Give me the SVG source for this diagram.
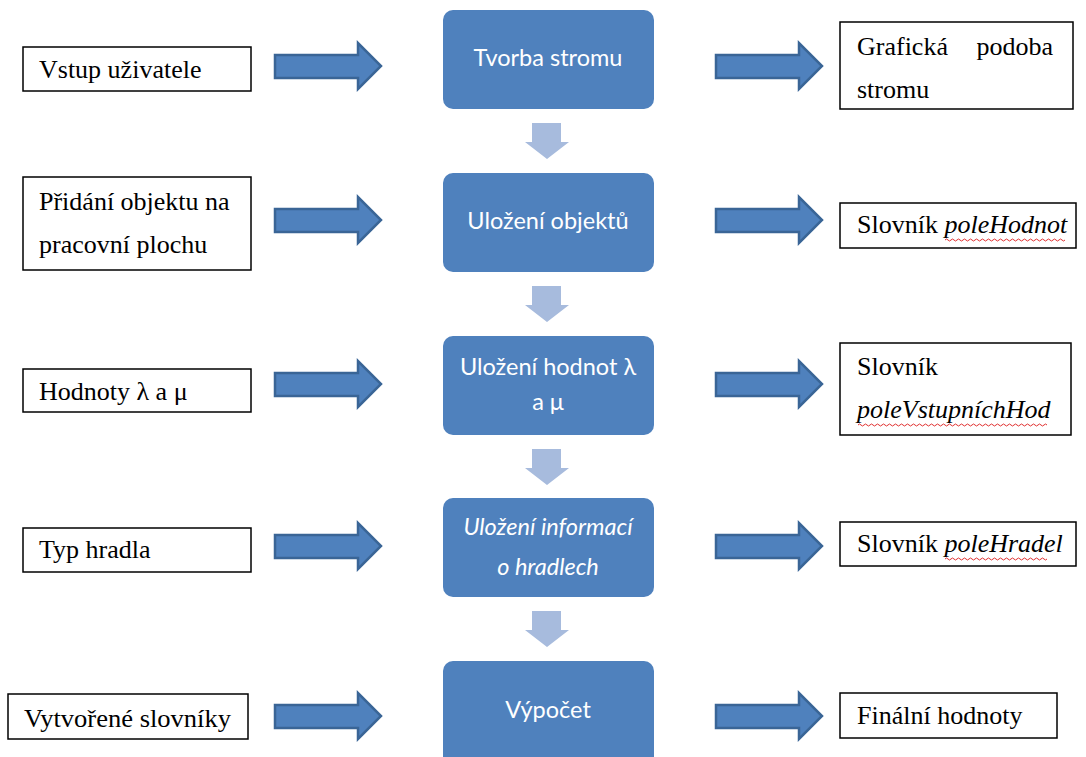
<svg xmlns="http://www.w3.org/2000/svg" width="1086" height="757" viewBox="0 0 1086 757">
<defs>
<style>
.box{fill:#fff;stroke:#000;stroke-width:1.5}
.proc{fill:#4F81BD}
.t{font-family:"Liberation Serif","Times New Roman",serif;font-size:26px;fill:#000}
.it{font-style:italic}
.c{font-family:Lato,"Open Sans","Liberation Sans",sans-serif;font-size:23.5px;fill:#fff;text-anchor:middle}
.harrow{fill:#4F81BD;stroke:#3A6596;stroke-width:2.5;stroke-linejoin:miter}
.varrow{fill:#A7BBDD}
.sq{fill:none;stroke:#E03030;stroke-width:1}
</style>
<path id="ha" d="M-106,-11 L-23,-11 L-23,-23 L0,0 L-23,23 L-23,12 L-106,12 Z"/>
<path id="va" d="M-15,0 L14,0 L14,19 L22,19 L0,36 L-22,19 L-15,19 Z"/>
</defs>

<g id="connectors">
<use href="#ha" class="harrow" x="381" y="66"/>
<use href="#ha" class="harrow" x="381" y="220"/>
<use href="#ha" class="harrow" x="381" y="384"/>
<use href="#ha" class="harrow" x="381" y="546"/>
<use href="#ha" class="harrow" x="381" y="716"/>
<use href="#ha" class="harrow" x="822" y="66"/>
<use href="#ha" class="harrow" x="822" y="220"/>
<use href="#ha" class="harrow" x="822" y="384"/>
<use href="#ha" class="harrow" x="822" y="546"/>
<use href="#ha" class="harrow" x="822" y="716"/>
<use href="#va" class="varrow" x="547" y="123"/>
<use href="#va" class="varrow" x="547" y="286"/>
<use href="#va" class="varrow" x="547" y="449"/>
<use href="#va" class="varrow" x="547" y="611"/>
</g>

<g id="in1"><rect class="box" x="23" y="47" width="228" height="44"/><text class="t" x="39" y="78">Vstup uživatele</text></g>
<g id="in2"><rect class="box" x="23" y="177" width="228" height="93"/><text class="t" x="39" y="210">Přidání objektu na</text><text class="t" x="39" y="253">pracovní plochu</text></g>
<g id="in3"><rect class="box" x="23" y="369" width="228" height="43"/><text class="t" x="39" y="400">Hodnoty λ a μ</text></g>
<g id="in4"><rect class="box" x="23" y="528" width="228" height="44"/><text class="t" x="39" y="558">Typ hradla</text></g>
<g id="in5"><rect class="box" x="8" y="694" width="240" height="45"/><text class="t" x="24" y="727" textLength="207" lengthAdjust="spacingAndGlyphs">Vytvořené slovníky</text></g>

<g id="p1"><rect class="proc" x="443" y="10" width="211" height="99" rx="10"/><text class="c" x="548" y="66">Tvorba stromu</text></g>
<g id="p2"><rect class="proc" x="443" y="173" width="211" height="99" rx="10"/><text class="c" x="548" y="229">Uložení objektů</text></g>
<g id="p3"><rect class="proc" x="443" y="336" width="211" height="99" rx="10"/><text class="c" x="548" y="375">Uložení hodnot λ</text><text class="c" x="548" y="410">a μ</text></g>
<g id="p4"><rect class="proc" x="443" y="498" width="211" height="99" rx="10"/><text class="c it" x="548" y="535">Uložení informací</text><text class="c it" x="548" y="575">o hradlech</text></g>
<g id="p5"><rect class="proc" x="443" y="661" width="211" height="110" rx="10"/><text class="c" x="548" y="718">Výpočet</text></g>

<g id="out1"><rect class="box" x="840" y="22" width="233" height="87"/><text class="t" x="857" y="55">Grafická</text><text class="t" x="1053" y="55" text-anchor="end">podoba</text><text class="t" x="857" y="98">stromu</text></g>
<g id="out2"><rect class="box" x="840" y="203" width="236" height="45"/><text class="t" x="857" y="233">Slovník <tspan class="it">poleHodnot</tspan></text><path class="sq" d="M945,240 q1.5,-2 3,0 t3,0 t3,0 t3,0 t3,0 t3,0 t3,0 t3,0 t3,0 t3,0 t3,0 t3,0 t3,0 t3,0 t3,0 t3,0 t3,0 t3,0 t3,0 t3,0 t3,0 t3,0 t3,0 t3,0 t3,0 t3,0 t3,0 t3,0 t3,0 t3,0 t3,0 t3,0 t3,0 t3,0 t3,0 t3,0 t3,0 t3,0 t3,0 t3,0"/></g>
<g id="out3"><rect class="box" x="840" y="343" width="231" height="92"/><text class="t" x="857" y="375">Slovník</text><text class="t it" x="857" y="418">poleVstupníchHod</text><path class="sq" d="M858,425 q1.5,-2 3,0 t3,0 t3,0 t3,0 t3,0 t3,0 t3,0 t3,0 t3,0 t3,0 t3,0 t3,0 t3,0 t3,0 t3,0 t3,0 t3,0 t3,0 t3,0 t3,0 t3,0 t3,0 t3,0 t3,0 t3,0 t3,0 t3,0 t3,0 t3,0 t3,0 t3,0 t3,0 t3,0 t3,0 t3,0 t3,0 t3,0 t3,0 t3,0 t3,0 t3,0 t3,0 t3,0 t3,0 t3,0 t3,0 t3,0 t3,0 t3,0 t3,0 t3,0 t3,0 t3,0 t3,0 t3,0 t3,0 t3,0 t3,0 t3,0 t3,0 t3,0 t3,0 t3,0"/></g>
<g id="out4"><rect class="box" x="840" y="522" width="236" height="44"/><text class="t" x="857" y="552">Slovník <tspan class="it">poleHradel</tspan></text><path class="sq" d="M945,559 q1.5,-2 3,0 t3,0 t3,0 t3,0 t3,0 t3,0 t3,0 t3,0 t3,0 t3,0 t3,0 t3,0 t3,0 t3,0 t3,0 t3,0 t3,0 t3,0 t3,0 t3,0 t3,0 t3,0 t3,0 t3,0 t3,0 t3,0 t3,0 t3,0 t3,0 t3,0 t3,0 t3,0 t3,0 t3,0"/></g>
<g id="out5"><rect class="box" x="840" y="693" width="217" height="45"/><text class="t" x="857" y="724">Finální hodnoty</text></g>
</svg>
